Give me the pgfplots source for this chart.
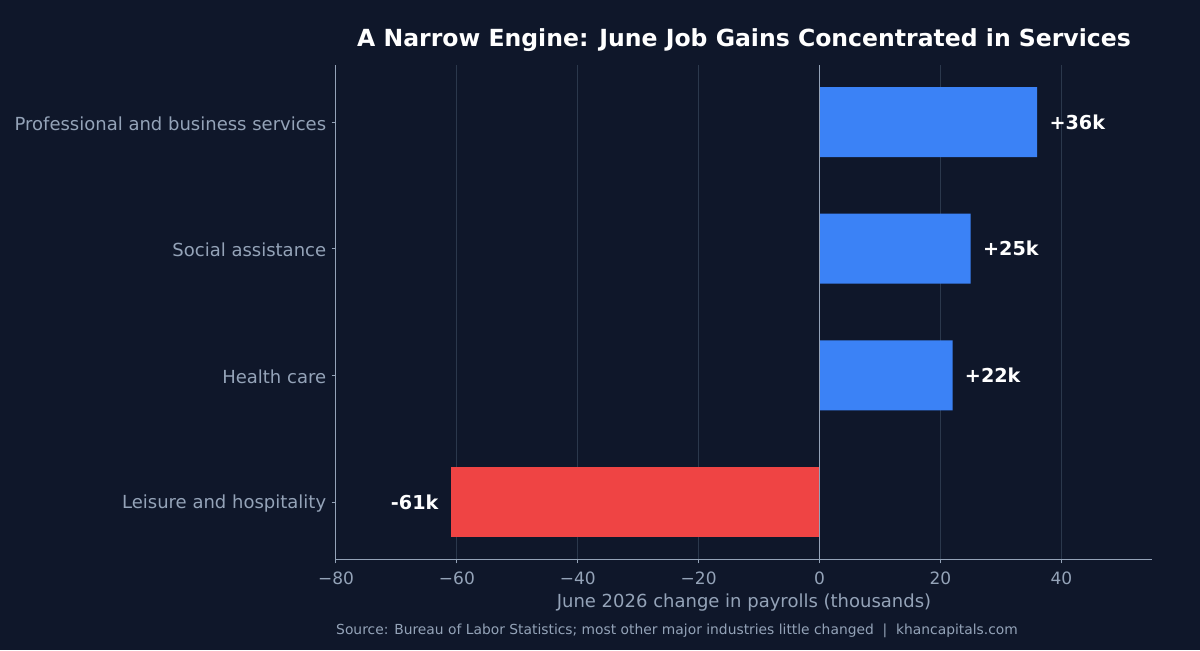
\documentclass[border=0pt]{standalone}
\usepackage{pgfplots}
\pgfplotsset{compat=1.18}
\usepackage{fontspec}
\setmainfont{DejaVu Sans}

\definecolor{bg}{HTML}{0F172A}
\definecolor{axisgrey}{HTML}{94A3B8}
\definecolor{gridc}{HTML}{334155}
\definecolor{gain}{HTML}{3B82F6}
\definecolor{loss}{HTML}{EF4444}

\begin{document}
\begin{tikzpicture}
\fill[bg] (0,0) rectangle (600pt,325pt);
\begin{axis}[
  at={(168pt,45.5pt)}, anchor=south west,
  width=408pt, height=247pt, scale only axis,
  xmin=-80, xmax=55, ymin=-0.45, ymax=3.45,
  axis x line*=bottom, axis y line*=left,
  axis line style={-, draw=axisgrey, line width=0.5pt},
  tick style={draw=axisgrey, line width=0.5pt},
  tick align=outside, major tick length=2.2pt,
  xtick={-80,-60,-40,-20,0,20,40},
  xticklabels={−80,−60,−40,−20,0,20,40},
  ytick={0,1,2,3},
  yticklabels={Leisure and hospitality, Health care, Social assistance, Professional and business services},
  x tick label style={font=\fontsize{8.5}{10}\selectfont, text=axisgrey, yshift=-0.5pt},
  y tick label style={font=\fontsize{9}{10}\selectfont, text=axisgrey, xshift=0.8pt, yshift=-0.8pt},
  xmajorgrids, grid style={draw=gridc, line width=0.5pt, opacity=0.8},
  xlabel={June 2026 change in payrolls (thousands)},
  xlabel style={font=\fontsize{9}{10}\selectfont, text=axisgrey, yshift=2pt},
]
% gains
\addplot[xbar, bar width=35pt, bar shift=0pt, draw=none, fill=gain,
  point meta=explicit symbolic, nodes near coords={\pgfplotspointmeta},
  every node near coord/.style={anchor=west, inner sep=0pt, xshift=6pt, text=white,
    font=\fontsize{9.6}{10}\selectfont\bfseries}]
  coordinates {(36,3) [+36k] (25,2) [+25k] (22,1) [+22k]};
% losses
\addplot[xbar, bar width=35pt, bar shift=0pt, draw=none, fill=loss,
  point meta=explicit symbolic, nodes near coords={\pgfplotspointmeta},
  every node near coord/.style={anchor=east, inner sep=0pt, xshift=-6pt, text=white,
    font=\fontsize{9.6}{10}\selectfont\bfseries}]
  coordinates {(-61,0) [-61k]};
% zero reference line
\addplot[sharp plot, draw=axisgrey, line width=0.6pt, mark=none]
  coordinates {(0,-0.45) (0,3.45)};
\end{axis}
\node[text=white, font=\fontsize{11.77}{13}\selectfont\bfseries] at (372pt,305pt)
  {A Narrow Engine: June Job Gains Concentrated in Services};
\node[text=axisgrey, font=\fontsize{6.92}{8}\selectfont] at (338.5pt,9.8pt)
  {Source: Bureau of Labor Statistics; most other major industries little changed \ \textbar\ \ khancapitals.com};
\end{tikzpicture}
\end{document}
